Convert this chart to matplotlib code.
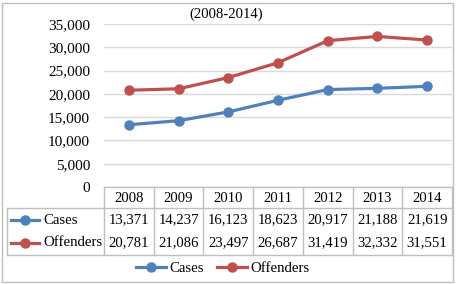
import matplotlib
matplotlib.use("Agg")
import matplotlib.pyplot as plt
from matplotlib import transforms
from matplotlib.lines import Line2D

years = ["2008", "2009", "2010", "2011", "2012", "2013", "2014"]
cases = [13371, 14237, 16123, 18623, 20917, 21188, 21619]
offenders = [20781, 21086, 23497, 26687, 31419, 32332, 31551]
series_names = ["Cases", "Offenders"]
yticks = [0, 5000, 10000, 15000, 20000, 25000, 30000, 35000]
title = "(2008-2014)"

W, H = 457, 284
BLUE = "#4F81BD"
RED = "#C0504D"
GRID = "#D9D9D9"
BORDER = "#BFBFBF"
FONT = "Liberation Serif"
FS = 10.6

plt.rcParams['font.family'] = [FONT, 'DejaVu Serif']

fig = plt.figure(figsize=(W / 100, H / 100), dpi=100)

def fx(px):
    return px / W

def fy(py):
    return 1 - py / H

ax_left, ax_right, ax_top, ax_bottom = 104, 452, 24, 187
ax = fig.add_axes([fx(ax_left), fy(ax_bottom), fx(ax_right) - fx(ax_left), fy(ax_top) - fy(ax_bottom)])
x = list(range(len(years)))
ax.plot(x, cases, color=BLUE, lw=2.3, marker="o", ms=6.5, solid_capstyle="round")
ax.plot(x, offenders, color=RED, lw=2.3, marker="o", ms=6.5, solid_capstyle="round")
ax.set_xlim(-0.5, len(years) - 0.5)
ax.set_ylim(0, 35000)
ax.set_yticks(yticks)
ax.set_yticklabels([f"{v:,}" for v in yticks], fontsize=FS + 0.4)
ax.tick_params(axis="y", length=0, pad=10)
ax.set_xticks([])
for s in ax.spines.values():
    s.set_visible(False)
ax.yaxis.grid(True, color=GRID, lw=1)
ax.set_axisbelow(True)
for lab in ax.get_yticklabels():
    lab.set_fontfamily(FONT)

# Figure border
fig.add_artist(plt.Rectangle((fx(2), fy(282)), fx(453) - fx(2), fy(3) - fy(282),
                             transform=fig.transFigure, fill=False, ec=BORDER, lw=1))

fig.text(fx(226), fy(14), title, ha="center", va="center", fontsize=FS, family=FONT)

# Data table
bt = transforms.blended_transform_factory(ax.transData, fig.transFigure)
y_top, y_hdr, y_bot = 187, 208, 255
tbl_left = 7
lc = "#BFBFBF"
fig.add_artist(Line2D([fx(ax_left), fx(ax_right)], [fy(y_top)] * 2, color=lc, lw=1, transform=fig.transFigure))
for yy in (y_hdr, y_bot):
    fig.add_artist(Line2D([fx(tbl_left), fx(ax_right)], [fy(yy)] * 2, color=lc, lw=1, transform=fig.transFigure))
for i in range(len(years) + 1):
    fig.add_artist(Line2D([i - 0.5, i - 0.5], [fy(y_top), fy(y_bot)], color=lc, lw=1, transform=bt))
fig.add_artist(Line2D([fx(tbl_left)] * 2, [fy(y_hdr), fy(y_bot)], color=lc, lw=1, transform=fig.transFigure))

row_y = {"hdr": 198, series_names[0]: 220, series_names[1]: 243}
for i, yr in enumerate(years):
    fig.text(i, fy(row_y["hdr"]), yr, transform=bt, ha="center", va="center", fontsize=FS, family=FONT)
    fig.text(i, fy(row_y[series_names[0]]), f"{cases[i]:,}", transform=bt, ha="center", va="center", fontsize=FS, family=FONT)
    fig.text(i, fy(row_y[series_names[1]]), f"{offenders[i]:,}", transform=bt, ha="center", va="center", fontsize=FS, family=FONT)

for name, col in zip(series_names, (BLUE, RED)):
    yy = fy(row_y[name])
    fig.add_artist(Line2D([fx(11), fx(39)], [yy, yy], color=col, lw=2.3, transform=fig.transFigure))
    fig.add_artist(Line2D([fx(25)], [yy], color=col, marker="o", ms=6.5, transform=fig.transFigure))
    fig.text(fx(43), yy, name, ha="left", va="center", fontsize=FS, family=FONT)

# Legend
handles = [Line2D([], [], color=BLUE, lw=2.3, marker="o", ms=6.5),
           Line2D([], [], color=RED, lw=2.3, marker="o", ms=6.5)]
fig.legend(handles, series_names, loc="center", bbox_to_anchor=(fx(223), fy(268)), ncol=2,
           frameon=False, handlelength=2.0, handletextpad=0.25, columnspacing=0.9,
           prop={"family": FONT, "size": FS})

fig.savefig("out.png", dpi=100)
